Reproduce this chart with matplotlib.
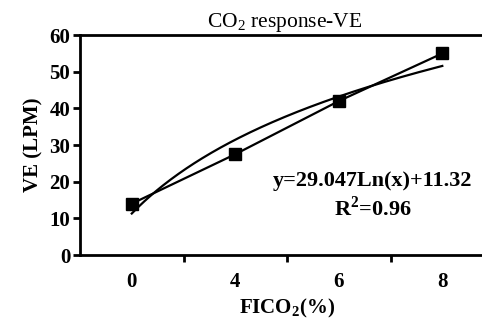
import numpy as np
import matplotlib
matplotlib.use("Agg")
import matplotlib.pyplot as plt

plt.rcParams['font.family'] = ['Liberation Serif', 'DejaVu Serif']
plt.rcParams['mathtext.fontset'] = 'custom'
plt.rcParams['mathtext.rm'] = 'Liberation Serif'
plt.rcParams['mathtext.bf'] = 'Liberation Serif:bold'

# data
categories = ['0', '4', '6', '8']
ve = [14, 27.5, 42, 55]
fit_a, fit_b = 29.047, 11.32  # log trendline y = a*ln(x) + b, x = category index 1..4

fig = plt.figure(figsize=(4.82, 3.21), dpi=100)
ax = fig.add_axes([0.166, 0.2056, 0.859, 0.685])

pos = np.arange(1, len(categories) + 1)
ax.plot(pos, ve, color='black', lw=1.6, marker='s', ms=9, mfc='black', mec='black', clip_on=False)
xs = np.linspace(1, 4, 200)
ax.plot(xs, fit_a * np.log(xs) + fit_b, color='black', lw=1.6, clip_on=False)

ax.set_xlim(0.5, 4.5)
ax.set_ylim(0, 60)
ax.set_yticks(range(0, 61, 10))
ax.set_xticks([1.5, 2.5, 3.5])
ax.set_xticklabels([])
ax.set_xticks(pos, minor=True)
ax.set_xticklabels(categories, minor=True)
ax.tick_params(axis='x', which='major', direction='out', length=5, width=2)
ax.tick_params(axis='x', which='minor', length=0, pad=12, labelsize=15)
ax.tick_params(axis='y', direction='out', length=5, width=2, labelsize=15, pad=2)
for lab in ax.get_xticklabels(minor=True) + ax.get_yticklabels():
    lab.set_fontweight('bold')

for s in ['left', 'bottom', 'top']:
    ax.spines[s].set_linewidth(2)
ax.spines['right'].set_visible(False)

fig.text(0.59, 0.93, 'CO$_2$ response-VE', ha='center', va='center', fontsize=15.5)
ax.set_ylabel('VE (LPM)', fontsize=15, fontweight='bold', labelpad=4)
ax.set_xlabel(r'FICO$_\mathbf{2}$(%)', fontsize=15, fontweight='bold', labelpad=4)

ax.text(3.33, 20.3, 'y=29.047Ln(x)+11.32', ha='center', va='center', fontsize=16, fontweight='bold')
ax.text(3.33, 12.6, r'R$^\mathbf{2}$=0.96', ha='center', va='center', fontsize=16, fontweight='bold')

fig.savefig('out.png', dpi=100)
